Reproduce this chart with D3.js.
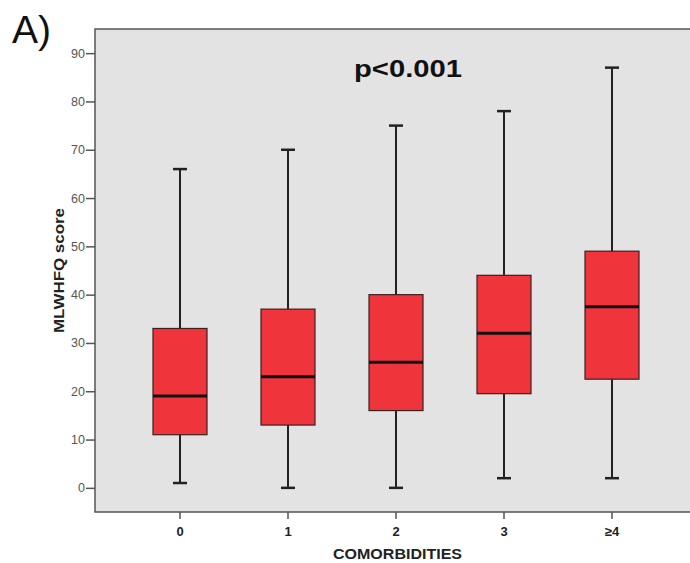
<!DOCTYPE html>
<html>
<head>
<meta charset="utf-8">
<script src="https://cdn.jsdelivr.net/npm/d3@7"></script>
<style>
  html, body { margin: 0; padding: 0; background: #fff; }
  svg { display: block; }
</style>
</head>
<body>
<svg id="chart" width="690" height="563"></svg>
<script>
// Comorbidity groups and MLWHFQ score distributions
const categories = ["0", "1", "2", "3", "\u22654"];
const whiskerLow  = [1, 0, 0, 2, 2];
const q1          = [11, 13, 16, 19.5, 22.5];
const median      = [19, 23, 26, 32, 37.5];
const q3          = [33, 37, 40, 44, 49];
const whiskerHigh = [66, 70, 75, 78, 87];
const yTicks = [0, 10, 20, 30, 40, 50, 60, 70, 80, 90];

const svg = d3.select("#chart");
const plot = { left: 95, right: 697, top: 29, bottom: 512 };
const FONT = "Liberation Sans, Arial, sans-serif";

const x = d3.scaleBand()
  .domain(categories)
  .range([plot.left, plot.right])
  .paddingInner(0.5)
  .paddingOuter(0.537);

const y = d3.scaleLinear().domain([-5, 95]).range([plot.bottom, plot.top]);

// panel background (runs past the right edge of the canvas)
svg.append("rect")
  .attr("x", plot.left).attr("y", plot.top)
  .attr("width", 720 - plot.left).attr("height", plot.bottom - plot.top)
  .attr("fill", "#e3e3e3")
  .attr("stroke", "#555").attr("stroke-width", 1.5);

// axes
const yAxis = svg.append("g")
  .attr("transform", `translate(${plot.left},0)`)
  .call(d3.axisLeft(y).tickValues(yTicks).tickSize(9).tickPadding(1));
yAxis.select(".domain").remove();
yAxis.selectAll("line").attr("stroke", "#555").attr("stroke-width", 1.5);
yAxis.selectAll("text")
  .attr("font-family", FONT)
  .attr("font-size", 12.5).attr("fill", "#555");

const xAxis = svg.append("g")
  .attr("transform", `translate(0,${plot.bottom})`)
  .call(d3.axisBottom(x).tickSize(7).tickPadding(8));
xAxis.select(".domain").remove();
xAxis.selectAll("line").attr("stroke", "#555").attr("stroke-width", 1.5);
xAxis.selectAll("text")
  .attr("font-family", FONT)
  .attr("font-size", 13).attr("font-weight", "bold").attr("fill", "#222");

// boxes
const bw = x.bandwidth();
const capW = 14;
const groups = svg.append("g").selectAll("g")
  .data(categories.map((c, i) => ({
    c, lo: whiskerLow[i], q1: q1[i], med: median[i], q3: q3[i], hi: whiskerHigh[i]
  })))
  .join("g")
  .attr("transform", d => `translate(${x(d.c) + bw / 2},0)`);

groups.append("line")
  .attr("x1", 0).attr("x2", 0)
  .attr("y1", d => y(d.hi)).attr("y2", d => y(d.q3))
  .attr("stroke", "#222").attr("stroke-width", 2);
groups.append("line")
  .attr("x1", 0).attr("x2", 0)
  .attr("y1", d => y(d.q1)).attr("y2", d => y(d.lo))
  .attr("stroke", "#222").attr("stroke-width", 2);
groups.append("line")
  .attr("x1", -capW / 2).attr("x2", capW / 2)
  .attr("y1", d => y(d.hi)).attr("y2", d => y(d.hi))
  .attr("stroke", "#222").attr("stroke-width", 2.5);
groups.append("line")
  .attr("x1", -capW / 2).attr("x2", capW / 2)
  .attr("y1", d => y(d.lo)).attr("y2", d => y(d.lo))
  .attr("stroke", "#222").attr("stroke-width", 2.5);
groups.append("rect")
  .attr("x", -bw / 2).attr("width", bw)
  .attr("y", d => y(d.q3)).attr("height", d => y(d.q1) - y(d.q3))
  .attr("fill", "#ef353b").attr("stroke", "#3a2020").attr("stroke-width", 1.2);
groups.append("line")
  .attr("x1", -bw / 2).attr("x2", bw / 2)
  .attr("y1", d => y(d.med)).attr("y2", d => y(d.med))
  .attr("stroke", "#111").attr("stroke-width", 3);

// axis titles
svg.append("text")
  .attr("transform", `translate(64,333) rotate(-90)`)
  .attr("font-family", FONT)
  .attr("font-size", 15).attr("font-weight", "bold").attr("fill", "#222")
  .attr("textLength", 125).attr("lengthAdjust", "spacingAndGlyphs")
  .text("MLWHFQ score");

svg.append("text")
  .attr("x", 333).attr("y", 559)
  .attr("font-family", FONT)
  .attr("font-size", 14.5).attr("font-weight", "bold").attr("fill", "#222")
  .attr("textLength", 129).attr("lengthAdjust", "spacingAndGlyphs")
  .text("COMORBIDITIES");

// annotation
svg.append("text")
  .attr("x", 354).attr("y", 77)
  .attr("font-family", FONT)
  .attr("font-size", 24).attr("font-weight", "bold").attr("fill", "#111")
  .attr("textLength", 108).attr("lengthAdjust", "spacingAndGlyphs")
  .text("p<0.001");

// panel label
svg.append("text")
  .attr("x", 12).attr("y", 43)
  .attr("font-family", FONT)
  .attr("font-size", 39).attr("fill", "#111")
  .text("A)");
</script>
</body>
</html>
